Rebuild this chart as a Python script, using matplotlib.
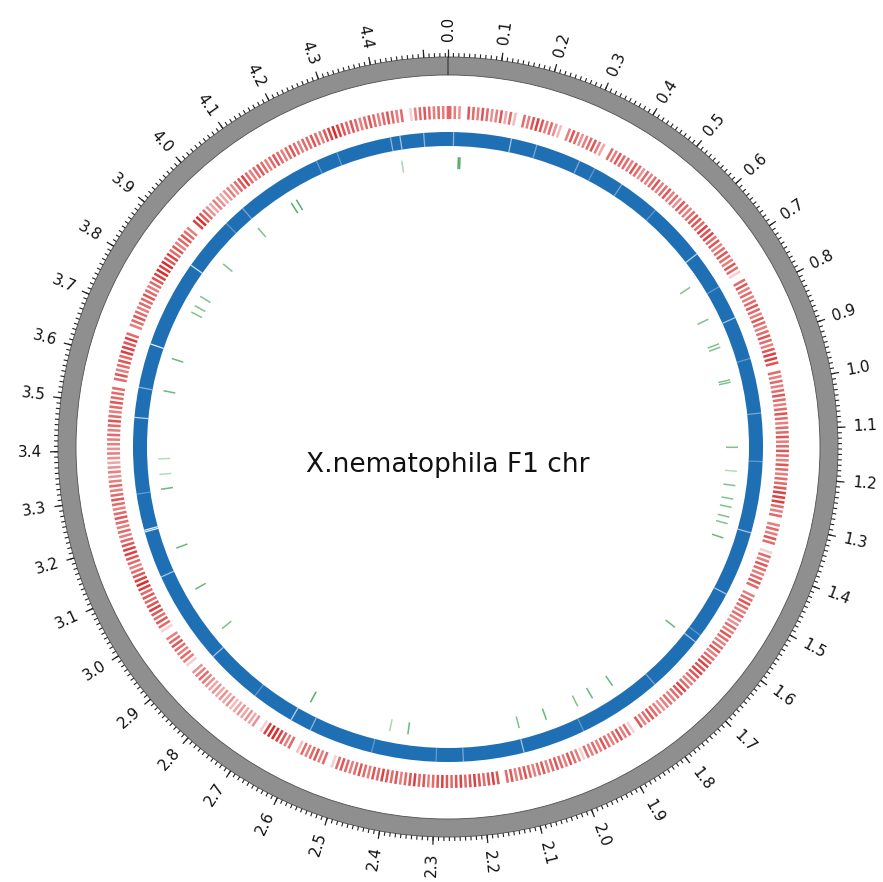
import numpy as np
import matplotlib
matplotlib.use("Agg")
import matplotlib.pyplot as plt
from matplotlib.colors import to_rgba

# genome / axis
genome_size = 4.545  # Mb
major_ticks = np.arange(0, 4.501, 0.1)
minor_ticks = np.arange(0, 4.541, 0.01)
tick_labels = ["%.1f" % v for v in np.arange(0, 4.45, 0.1)]  # end label hidden
title = "X.nematophila F1 chr"

# red track: feature density per 10 kb bin (0-9)
red_density = (
    "6540765764" "5736206578" "7564205764" "5675306576" "6576465675"
    "6756476567" "7687867567" "6576106756" "5676576567" "6578870656"
    "5676567656" "67567657656" "6788865605" "6576016576" "5676056765"
    "6546576567" "5678787656" "8765654567" "6570165765" "6756561567"
    "5676576567" "6576078767" "87687678765" "7687657678" "6756765676"
    "1065765620" "6578998104" "3434324343" "4345654015" "6567650167"
    "6787676898" "7656788765" "6567656765" "6545434545" "56567656766"
    "6067567688" "7860567656" "6765678989" "7867567650" "8976435434"
    "5467865676" "5676567656" "6765789876" "7656765676" "5601567656"
    "56"
)
red_bin = 0.01  # Mb

# blue track: visible white gaps (Mb) and their strength
blue_gaps = [0.013, 0.147, 0.207, 0.312, 0.351, 0.423, 0.52, 0.659, 0.75, 0.830,
             0.93, 1.058, 1.17, 1.336, 1.488, 1.60, 1.619, 1.754, 1.95, 2.096,
             2.237, 2.30, 2.45, 2.600, 2.650, 2.75, 2.882, 3.101, 3.211, 3.215,
             3.30, 3.477, 3.547, 3.650, 3.854, 3.98, 4.031, 4.233, 4.284, 4.412,
             4.434, 4.489]
blue_gap_alpha = [0.5, 0.6, 0.4, 0.4, 0.3, 0.4, 0.3, 0.7, 0.3, 0.6,
                  0.3, 0.4, 0.3, 0.6, 0.6, 0.3, 0.6, 0.4, 0.3, 0.6,
                  0.4, 0.3, 0.3, 0.5, 0.7, 0.3, 0.6, 0.6, 0.9, 0.9,
                  0.3, 0.7, 0.5, 0.9, 0.8, 0.3, 0.4, 0.3, 0.3, 0.5,
                  0.6, 0.5]

# green track: short features (Mb) and their strength
green_pos = [0.026, 0.030, 0.7145, 0.806, 0.873, 0.882, 0.967, 0.973, 1.137, 1.197,
             1.233, 1.267, 1.288, 1.313, 1.330, 1.367, 1.622, 1.836, 1.895, 1.937,
             2.022, 2.093, 2.373, 2.419, 2.630, 2.919, 3.038, 3.151, 3.303, 3.340,
             3.379, 3.550, 3.633, 3.759, 3.777, 3.804, 3.903, 4.028, 4.132, 4.147,
             4.429]
green_alpha = [0.8, 0.8, 0.6, 0.6, 0.6, 0.6, 0.6, 0.6, 0.6, 0.35,
               0.6, 0.6, 0.6, 0.6, 0.6, 0.7, 0.7, 0.7, 0.7, 0.6,
               0.7, 0.6, 0.7, 0.4, 0.8, 0.6, 0.7, 0.7, 0.7, 0.35,
               0.35, 0.7, 0.7, 0.6, 0.6, 0.6, 0.6, 0.6, 0.8, 0.8,
               0.4]


def to_theta(mb):
    return 2 * np.pi * np.asarray(mb) / genome_size


W, H = 883, 882
cx, cy = 448, 447  # circle centre in pixels (from top-left)
R = 440            # axes radius in pixels, data r == pixels

fig = plt.figure(figsize=(W / 100, H / 100), dpi=100)
ax = fig.add_axes([(cx - R) / W, (H - cy - R) / H, 2 * R / W, 2 * R / H],
                  projection="polar")
ax.set_theta_zero_location("N")
ax.set_theta_direction(-1)
ax.set_ylim(0, R)
ax.axis("off")

# outer grey axis ring
ax.bar(0, 18, width=2 * np.pi, bottom=372, align="edge", color="#8f8f8f",
       edgecolor="#505050", linewidth=0.6)
ax.vlines(to_theta(minor_ticks), 390, 394, color="#222222", lw=0.8)
ax.vlines(to_theta(major_ticks), 390, 398, color="#222222", lw=0.9)

for lab in tick_labels:
    th = to_theta(float(lab))
    deg = np.degrees(th)
    if deg <= 180:
        rot, ha = 90 - deg, "left"
    else:
        rot, ha = 270 - deg, "right"
    ax.text(th, 406, lab, rotation=rot, rotation_mode="anchor",
            ha=ha, va="center", fontsize=11, color="#111111")

# red feature track
dens = np.array([int(c) for c in red_density])
starts = np.arange(len(dens)) * red_bin
keep = dens > 0
red_cols = [to_rgba("#d62728", 0.12 + 0.095 * d) for d in dens[keep]]
ax.bar(to_theta(starts[keep] + 0.002), 13, width=to_theta(red_bin * 0.55),
       bottom=328, align="edge", color=red_cols, linewidth=0)

# blue feature track
ax.bar(0, 14, width=2 * np.pi, bottom=301, align="edge", color="#1f6fb4",
       linewidth=0)
blue_cols = [to_rgba("white", a) for a in blue_gap_alpha]
ax.vlines(to_theta(blue_gaps), 301, 315, colors=blue_cols, lw=0.9)

# green features
green_cols = [to_rgba("#2a9a45", a) for a in green_alpha]
ax.vlines(to_theta(green_pos), 278, 290, colors=green_cols, lw=1.1)

fig.text(cx / W, 1 - 465 / H, title, ha="center", va="center", fontsize=19,
         color="#111111")

fig.savefig("out.png", dpi=100)
